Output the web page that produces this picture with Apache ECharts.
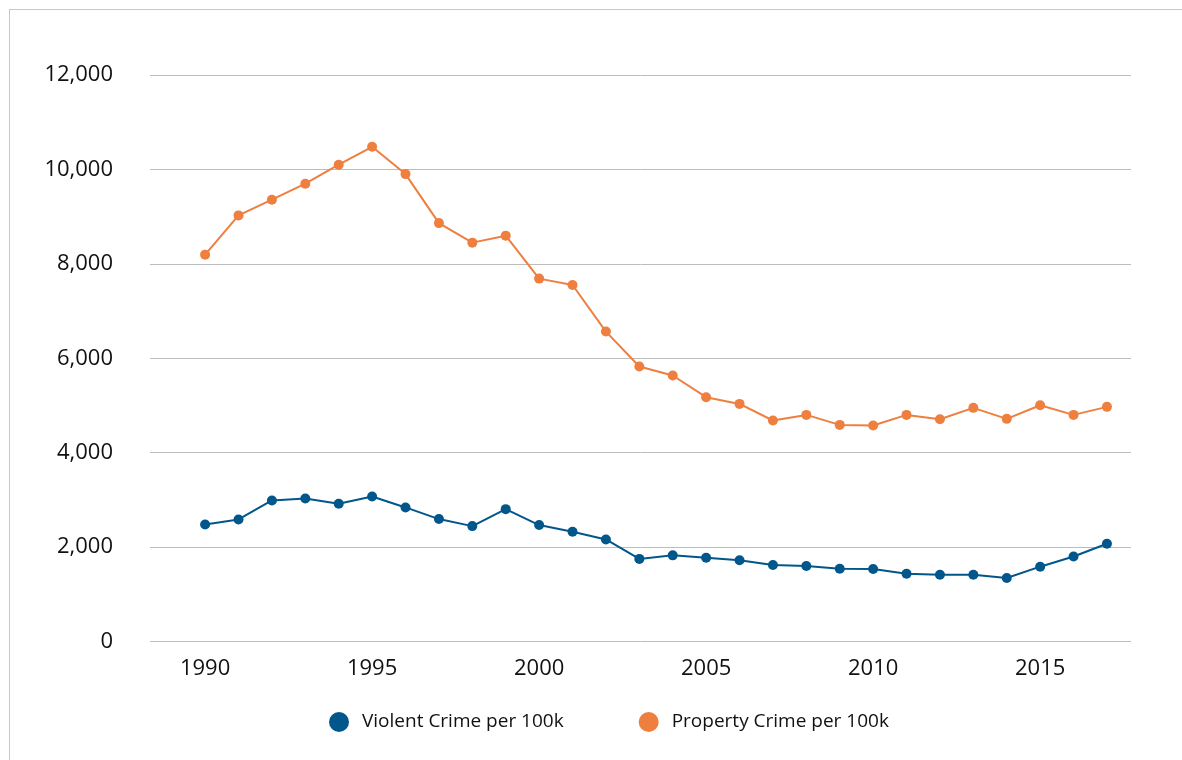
<!DOCTYPE html>
<html>
<head>
<meta charset="utf-8">
<script src="https://cdn.jsdelivr.net/npm/echarts@6/dist/echarts.min.js"></script>
<style>
  html, body { margin: 0; padding: 0; background: #fff; }
  #main { width: 1182px; height: 760px; }
  .frame {
    position: absolute; left: 9px; top: 9px; width: 1200px; height: 800px;
    border: 1px solid #c8c8c8; pointer-events: none;
  }
</style>
</head>
<body>
<div id="main"></div>
<div class="frame"></div>
<script>
// years on the x axis
const years = [1990, 1991, 1992, 1993, 1994, 1995, 1996, 1997, 1998, 1999,
  2000, 2001, 2002, 2003, 2004, 2005, 2006, 2007, 2008, 2009,
  2010, 2011, 2012, 2013, 2014, 2015, 2016, 2017];
const violent = [2480, 2586, 2988, 3031, 2917, 3073, 2840, 2593, 2444, 2804,
  2466, 2324, 2162, 1750, 1825, 1775, 1720, 1620, 1600, 1540,
  1535, 1435, 1415, 1415, 1345, 1585, 1800, 2070];
const property = [8195, 9026, 9359, 9697, 10099, 10480, 9901, 8863, 8449, 8597,
  7687, 7552, 6565, 5824, 5634, 5175, 5033, 4681, 4800, 4588,
  4575, 4800, 4709, 4949, 4716, 5005, 4800, 4970];
const yearTicks = [1990, 1995, 2000, 2005, 2010, 2015];
const seriesNames = ['Violent Crime per 100k', 'Property Crime per 100k'];

const chart = echarts.init(document.getElementById('main'));

function pairs(vals) {
  return years.map((y, i) => [y, vals[i]]);
}

const font = '"Open Sans", "Noto Sans", sans-serif';

chart.setOption({
  animation: false,
  color: ['#01578b', '#ee7f3f'],
  textStyle: { fontFamily: font },
  grid: { left: 150, right: 51, top: 75, bottom: 118.5 },
  legend: {
    bottom: 23,
    left: 324,
    itemGap: 75,
    itemWidth: 20,
    itemHeight: 20,
    icon: 'circle',
    textStyle: { fontSize: 19, color: '#111', fontFamily: font, padding: [0, 0, 0, 8] },
    data: seriesNames
  },
  xAxis: {
    type: 'value',
    min: 1988.35,
    max: 2017.72,
    axisLine: { show: false },
    axisTick: { show: false },
    splitLine: { show: false },
    axisLabel: {
      customValues: yearTicks,
      fontSize: 22,
      color: '#111',
      margin: 16,
      formatter: v => String(v)
    }
  },
  yAxis: {
    type: 'value',
    min: 0,
    max: 12000,
    interval: 2000,
    axisLine: { show: false },
    axisTick: { show: false },
    splitLine: { lineStyle: { color: '#bcbcbc', width: 1 } },
    axisLabel: {
      fontSize: 22,
      color: '#111',
      margin: 37,
      padding: [3, 0, 0, 0],
      formatter: v => v.toLocaleString('en-US')
    }
  },
  series: [
    {
      name: seriesNames[0],
      type: 'line',
      data: pairs(violent),
      symbol: 'circle',
      symbolSize: 10,
      lineStyle: { width: 2 }
    },
    {
      name: seriesNames[1],
      type: 'line',
      data: pairs(property),
      symbol: 'circle',
      symbolSize: 10,
      lineStyle: { width: 2 }
    }
  ]
});
</script>
</body>
</html>
